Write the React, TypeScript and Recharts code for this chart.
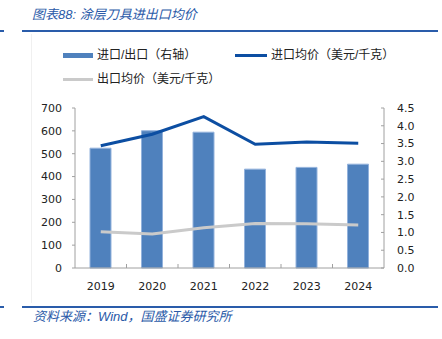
import React from 'react';
import { ComposedChart, Bar, Line, XAxis, YAxis, Legend } from 'recharts';

const years = ['2019', '2020', '2021', '2022', '2023', '2024'];
const ratioValues = [3.37, 3.86, 3.82, 2.78, 2.83, 2.92];
const importPrice = [535, 585, 662, 541, 551, 546];
const exportPrice = [159, 149, 176, 195, 194, 188];
const leftTicks = [0, 100, 200, 300, 400, 500, 600, 700];
const rightTicks = [0, 0.5, 1, 1.5, 2, 2.5, 3, 3.5, 4, 4.5];
const seriesNames = ['进口/出口（右轴）', '进口均价（美元/千克）', '出口均价（美元/千克）'];
const titleText = '图表88: 涂层刀具进出口均价';
const sourceText = '资料来源：Wind，国盛证券研究所';

const data = years.map((y, i) => ({
  year: y,
  ratio: ratioValues[i],
  imp: importPrice[i],
  exp: exportPrice[i],
}));

const BAR_COLOR = '#4f81bd';
const IMP_COLOR = '#0c4ea2';
const EXP_COLOR = '#cacaca';
const AXIS_COLOR = '#a0a0a0';
const TEXT_COLOR = '#222';
const BLUE_TEXT = '#2a5aa8';
const TICK_FONT = '"DejaVu Sans", Verdana, sans-serif';
const CJK_FONT = '"Liberation Sans", "Noto Sans CJK SC", sans-serif';

const XTick = (props: any) => {
  const { x, y, payload, index } = props;
  const off = payload && typeof payload.offset === 'number' ? payload.offset : 0;
  const axisY = y - 14;
  return (
    <g>
      {index > 0 && (
        <line x1={x - off} x2={x - off} y1={axisY} y2={axisY - 4} stroke={AXIS_COLOR} strokeWidth={1} />
      )}
      <text x={x} y={y} dy="0.71em" textAnchor="middle" fill={TEXT_COLOR} fontSize={11} fontFamily={TICK_FONT}>
        {payload.value}
      </text>
    </g>
  );
};

const LegendContent = () => (
  <div style={{ position: 'relative', width: 442, height: 100, fontFamily: CJK_FONT, fontSize: 12, color: TEXT_COLOR }}>
    <div style={{ position: 'absolute', left: 63, top: 53, width: 30, height: 5, background: BAR_COLOR }} />
    <span style={{ position: 'absolute', left: 97, top: 46, lineHeight: '18px', whiteSpace: 'nowrap' }}>{seriesNames[0]}</span>
    <div style={{ position: 'absolute', left: 235, top: 53.5, width: 32, height: 3, background: IMP_COLOR }} />
    <span style={{ position: 'absolute', left: 271, top: 46, lineHeight: '18px', whiteSpace: 'nowrap' }}>{seriesNames[1]}</span>
    <div style={{ position: 'absolute', left: 63, top: 77.5, width: 30, height: 3, background: EXP_COLOR }} />
    <span style={{ position: 'absolute', left: 97, top: 70, lineHeight: '18px', whiteSpace: 'nowrap' }}>{seriesNames[2]}</span>
  </div>
);

export default function App() {
  return (
    <div style={{ position: 'absolute', left: 0, top: 0, width: 442, height: 339, background: '#fff', overflow: 'hidden' }}>
      <div style={{ position: 'absolute', left: 0, top: 29.5, width: 4, height: 2, background: '#2a5caa' }} />
      <div style={{ position: 'absolute', left: 22, top: 29.5, width: 416, height: 2, background: '#2a5caa' }} />
      <div style={{ position: 'absolute', left: 0, top: 305.5, width: 4, height: 2, background: '#2a5caa' }} />
      <div style={{ position: 'absolute', left: 22, top: 305.5, width: 416, height: 2, background: '#2a5caa' }} />
      <div style={{ position: 'absolute', left: 31, top: 34, width: 1, height: 269, background: '#f0f0f0' }} />
      <div style={{ position: 'absolute', left: 32, top: 6, lineHeight: '18px', fontSize: 13, fontStyle: 'italic', color: BLUE_TEXT, fontFamily: CJK_FONT, whiteSpace: 'nowrap' }}>
        {titleText}
      </div>
      <div style={{ position: 'absolute', left: 33, top: 308, lineHeight: '18px', fontSize: 13, fontStyle: 'italic', color: BLUE_TEXT, fontFamily: CJK_FONT, whiteSpace: 'nowrap' }}>
        {sourceText}
      </div>
      <div style={{ position: 'absolute', left: 0, top: 0 }}>
        <ComposedChart width={442} height={339} data={data} margin={{ top: 108, right: 0, bottom: 41, left: 0 }}>
          <XAxis
            dataKey="year"
            height={30}
            tickLine={false}
            tickSize={0}
            tickMargin={14}
            axisLine={{ stroke: AXIS_COLOR }}
            tick={<XTick />}
            interval={0}
          />
          <YAxis
            yAxisId="left"
            orientation="left"
            width={75}
            domain={[0, 700]}
            ticks={leftTicks}
            interval={0}
            tickSize={3}
            tickMargin={10}
            axisLine={{ stroke: AXIS_COLOR }}
            tickLine={{ stroke: AXIS_COLOR }}
            tick={{ fill: TEXT_COLOR, fontSize: 11, fontFamily: TICK_FONT }}
          />
          <YAxis
            yAxisId="right"
            orientation="right"
            width={58}
            domain={[0, 4.5]}
            ticks={rightTicks}
            interval={0}
            tickSize={-3}
            tickMargin={16}
            axisLine={{ stroke: AXIS_COLOR }}
            tickLine={{ stroke: AXIS_COLOR }}
            tickFormatter={(v: number) => v.toFixed(1)}
            tick={{ fill: TEXT_COLOR, fontSize: 11, fontFamily: TICK_FONT }}
          />
          <Legend
            layout="vertical"
            align="center"
            verticalAlign="middle"
            content={<LegendContent />}
            wrapperStyle={{ position: 'absolute', left: 0, top: 0, width: 442, height: 100 }}
          />
          <Bar
            yAxisId="right"
            dataKey="ratio"
            name={seriesNames[0]}
            fill={BAR_COLOR}
            stroke="#93b2dc"
            strokeWidth={1}
            barSize={21}
            isAnimationActive={false}
          />
          <Line
            yAxisId="left"
            type="linear"
            dataKey="imp"
            name={seriesNames[1]}
            stroke={IMP_COLOR}
            strokeWidth={3}
            dot={false}
            isAnimationActive={false}
          />
          <Line
            yAxisId="left"
            type="linear"
            dataKey="exp"
            name={seriesNames[2]}
            stroke={EXP_COLOR}
            strokeWidth={3}
            dot={false}
            isAnimationActive={false}
          />
        </ComposedChart>
      </div>
    </div>
  );
}
